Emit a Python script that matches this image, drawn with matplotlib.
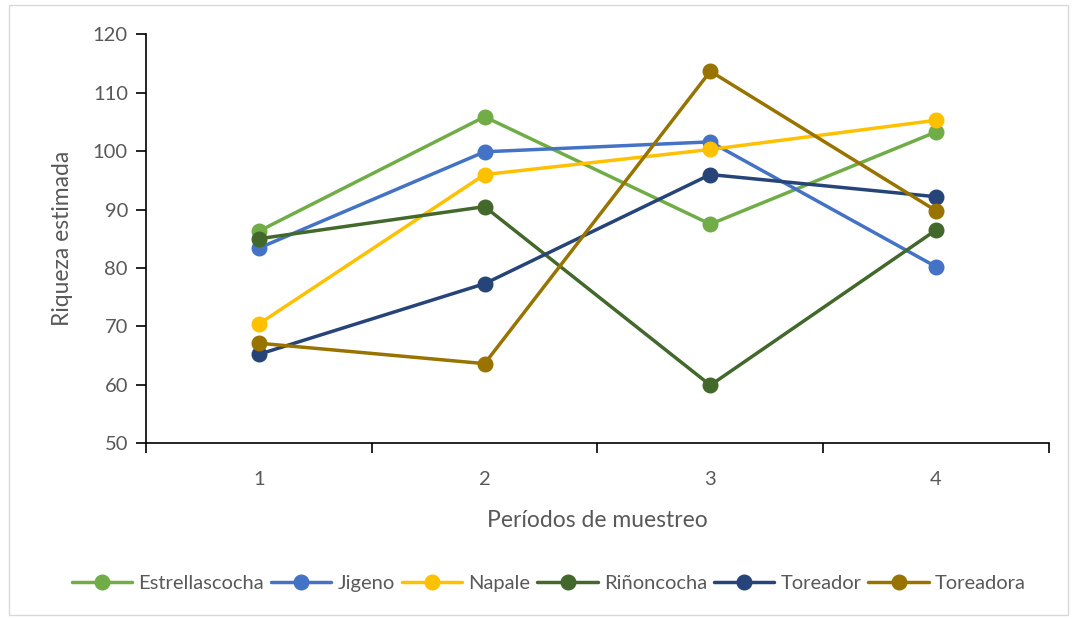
import matplotlib
matplotlib.use("Agg")
import matplotlib.pyplot as plt
from matplotlib.patches import Rectangle

periods = [1, 2, 3, 4]
series_names = ["Estrellascocha", "Jigeno", "Napale", "Riñoncocha", "Toreador", "Toreadora"]
estrellascocha = [86.3, 105.9, 87.5, 103.3]
jigeno = [83.4, 99.9, 101.6, 80.2]
napale = [70.4, 96.0, 100.3, 105.3]
rinoncocha = [85.0, 90.5, 59.9, 86.5]
toreador = [65.2, 77.3, 96.0, 92.2]
toreadora = [67.1, 63.6, 113.7, 89.8]
colors = ["#70AD47", "#4472C4", "#FFC000", "#43682B", "#264478", "#997300"]

y_ticks = [50, 60, 70, 80, 90, 100, 110, 120]

plt.rcParams["font.family"] = ["Lato", "DejaVu Sans"]
text_color = "#595959"

fig = plt.figure(figsize=(10.72, 6.19), dpi=100)
fig.patch.set_facecolor("white")
fig.patches.append(Rectangle((0.008, 0.006), 0.988, 0.986, transform=fig.transFigure,
                             fill=False, edgecolor="#D9D9D9", linewidth=1.0))

ax = fig.add_axes([0.1362, 0.2843, 0.8423, 0.6600])

all_series = [estrellascocha, jigeno, napale, rinoncocha, toreador, toreadora]
for name, vals, c in zip(series_names, all_series, colors):
    ax.plot(periods, vals, color=c, linewidth=2.5, marker="o", markersize=10.5,
            markerfacecolor=c, markeredgecolor=c, label=name, solid_capstyle="round")

ax.set_xlim(0.5, 4.5)
ax.set_ylim(50, 120)
ax.set_yticks(y_ticks)
ax.set_xticks(periods)
ax.set_xticks([0.5, 1.5, 2.5, 3.5, 4.5], minor=True)

for s in ["top", "right"]:
    ax.spines[s].set_visible(False)
for s in ["left", "bottom"]:
    ax.spines[s].set_color("black")
    ax.spines[s].set_linewidth(1.2)

ax.tick_params(axis="y", which="major", direction="out", length=7, width=1.2,
               colors="black", labelcolor=text_color, labelsize=14.5, pad=6)
ax.tick_params(axis="x", which="major", length=0, labelcolor=text_color, labelsize=14.5, pad=20)
ax.tick_params(axis="x", which="minor", direction="out", length=7, width=1.2, colors="black")

ax.set_xlabel("Períodos de muestreo", fontsize=16.5, color=text_color, labelpad=16)
ax.set_ylabel("Riqueza estimada", fontsize=16.5, color=text_color, labelpad=14)

handles, labels = ax.get_legend_handles_labels()
leg = fig.legend(handles, labels, loc="center", bbox_to_anchor=(0.512, 0.057), ncol=6,
                 frameon=False, fontsize=14.5, handlelength=3.0, handletextpad=0.3,
                 columnspacing=0.35, labelcolor=text_color)

fig.savefig("out.png", dpi=100, facecolor="white")
